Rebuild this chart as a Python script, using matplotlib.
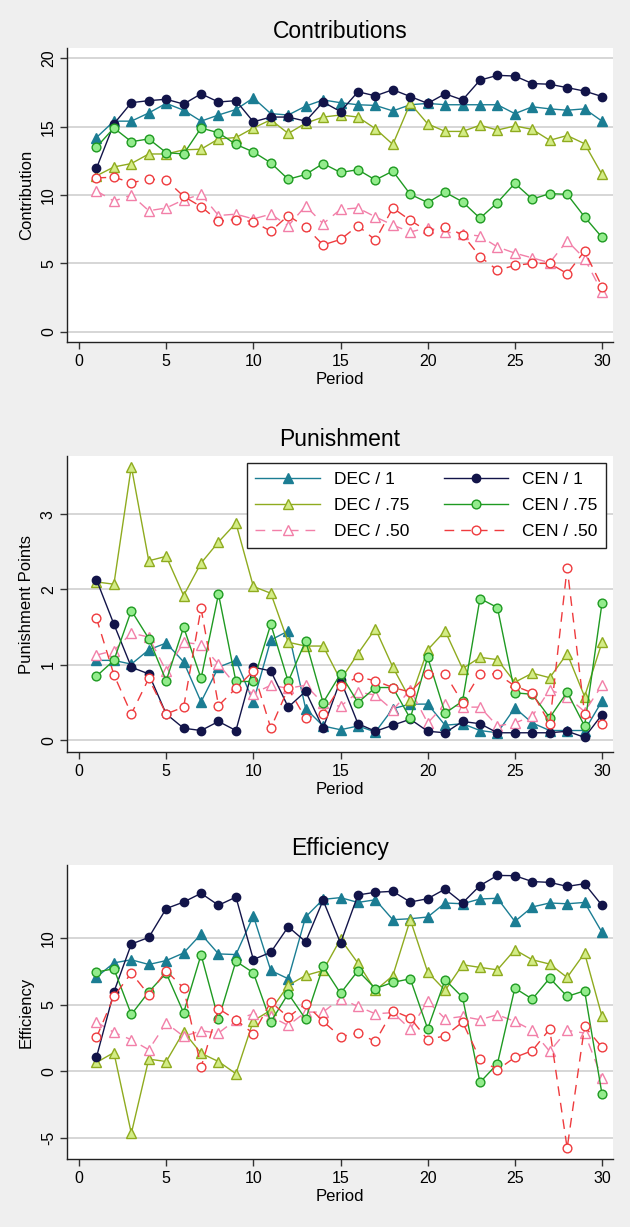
import matplotlib
matplotlib.use("Agg")
import matplotlib.pyplot as plt
import numpy as np

plt.rcParams['font.family'] = ['Liberation Sans', 'DejaVu Sans']
plt.rcParams['axes.unicode_minus'] = False

periods = list(range(1, 31))

# ---------------- Contributions ----------------
contrib_dec_1 = [14.2, 15.4, 15.4, 16.0, 16.7, 16.2, 15.4, 15.85, 16.25, 17.1,
                 15.95, 15.85, 16.5, 16.95, 16.75, 16.6, 16.55, 16.15, 16.6, 16.7,
                 16.6, 16.6, 16.6, 16.6, 15.95, 16.45, 16.3, 16.2, 16.3, 15.4]
contrib_cen_1 = [11.95, 15.2, 16.75, 16.9, 17.0, 16.65, 17.4, 16.8, 16.9, 15.35,
                 15.7, 15.7, 15.4, 16.8, 16.1, 17.55, 17.25, 17.7, 17.2, 16.7,
                 17.4, 16.95, 18.4, 18.75, 18.7, 18.15, 18.1, 17.85, 17.6, 17.2]
contrib_dec_75 = [11.4, 12.05, 12.3, 13.0, 13.0, 13.3, 13.35, 14.1, 14.2, 14.9,
                  15.5, 14.5, 15.25, 15.7, 15.85, 15.7, 14.85, 13.7, 16.7, 15.2,
                  14.65, 14.65, 15.1, 14.75, 15.05, 14.8, 14.0, 14.35, 13.75, 11.5]
contrib_cen_75 = [13.5, 14.9, 13.9, 14.1, 13.1, 13.0, 14.9, 14.55, 13.7, 13.15,
                  12.35, 11.15, 11.5, 12.3, 11.65, 11.85, 11.1, 11.75, 10.05, 9.45,
                  10.2, 9.5, 8.3, 9.45, 10.85, 9.7, 10.1, 10.05, 8.4, 6.9]
contrib_dec_50 = [10.3, 9.55, 10.0, 8.85, 9.05, 9.65, 10.05, 8.5, 8.6, 8.25,
                  8.6, 7.75, 9.2, 7.9, 8.95, 9.05, 8.4, 7.8, 7.3, 7.6,
                  7.3, 7.15, 7.0, 6.2, 5.75, 5.4, 5.05, 6.65, 5.35, 2.9]
contrib_cen_50 = [11.25, 11.3, 10.9, 11.15, 11.1, 9.9, 9.15, 8.1, 8.2, 8.05,
                  7.35, 8.5, 7.65, 6.35, 6.75, 7.75, 6.7, 9.05, 8.15, 7.35,
                  7.65, 7.1, 5.5, 4.5, 4.85, 5.0, 5.0, 4.25, 5.9, 3.3]

# ---------------- Punishment ----------------
pun_dec_1 = [1.06, 1.06, 1.01, 1.20, 1.29, 1.04, 0.51, 0.97, 1.06, 0.51,
             1.33, 1.45, 0.42, 0.19, 0.14, 0.19, 0.11, 0.42, 0.48, 0.48,
             0.20, 0.22, 0.13, 0.10, 0.43, 0.23, 0.13, 0.13, 0.13, 0.52]
pun_cen_1 = [2.13, 1.54, 0.97, 0.88, 0.35, 0.16, 0.13, 0.25, 0.13, 0.97,
             0.92, 0.44, 0.65, 0.16, 0.80, 0.22, 0.12, 0.20, 0.28, 0.12,
             0.10, 0.25, 0.22, 0.10, 0.10, 0.10, 0.10, 0.12, 0.04, 0.34]
pun_dec_75 = [2.10, 2.07, 3.63, 2.38, 2.44, 1.92, 2.35, 2.63, 2.88, 2.04,
              1.95, 1.30, 1.25, 1.25, 0.80, 1.15, 1.48, 0.97, 0.54, 1.20,
              1.45, 0.95, 1.10, 1.07, 0.77, 0.89, 0.83, 1.15, 0.58, 1.30]
pun_cen_75 = [0.85, 1.06, 1.72, 1.35, 0.79, 1.50, 0.82, 1.94, 0.78, 0.78,
              1.54, 0.78, 1.32, 0.50, 0.88, 0.50, 0.70, 0.70, 0.29, 1.10,
              0.36, 0.52, 1.88, 1.76, 0.63, 0.61, 0.30, 0.64, 0.19, 1.82]
pun_dec_50 = [1.13, 1.19, 1.42, 1.37, 0.92, 1.30, 1.27, 1.01, 0.73, 0.62,
              0.73, 0.69, 0.73, 0.49, 0.45, 0.64, 0.60, 0.40, 0.67, 0.23,
              0.48, 0.44, 0.44, 0.19, 0.23, 0.32, 0.67, 0.58, 0.38, 0.73]
pun_cen_50 = [1.62, 0.87, 0.35, 0.82, 0.35, 0.44, 1.75, 0.46, 0.69, 0.92,
              0.16, 0.69, 0.29, 0.35, 0.72, 0.84, 0.79, 0.70, 0.64, 0.88,
              0.88, 0.50, 0.88, 0.88, 0.72, 0.63, 0.22, 2.29, 0.35, 0.22]

# ---------------- Efficiency ----------------
eff_dec_1 = [7.05, 8.12, 8.35, 8.0, 8.29, 8.86, 10.27, 8.79, 8.74, 11.63,
             7.55, 6.93, 11.56, 12.87, 13.0, 12.64, 12.84, 11.35, 11.42, 11.55,
             12.6, 12.54, 12.9, 12.95, 11.22, 12.3, 12.6, 12.54, 12.64, 10.4]
eff_cen_1 = [1.06, 5.94, 9.53, 10.02, 12.18, 12.67, 13.32, 12.43, 13.04, 8.37,
             8.91, 10.82, 9.7, 12.8, 9.6, 13.2, 13.4, 13.47, 12.67, 12.92,
             13.64, 12.6, 13.9, 14.66, 14.64, 14.2, 14.14, 13.84, 14.04, 12.42]
eff_dec_75 = [0.67, 1.41, -4.63, 0.92, 0.74, 2.97, 1.36, 0.74, -0.17, 3.79,
              4.58, 6.44, 7.18, 7.55, 9.9, 8.1, 6.06, 7.16, 11.35, 7.43,
              6.06, 7.98, 7.78, 7.6, 9.1, 8.35, 8.03, 7.03, 8.85, 4.11]
eff_cen_75 = [7.43, 7.68, 4.26, 5.95, 7.36, 4.39, 8.73, 3.9, 8.24, 7.38,
              3.71, 5.82, 3.91, 7.85, 5.84, 7.53, 6.2, 6.66, 6.93, 3.19,
              6.86, 5.54, -0.82, 0.57, 6.23, 5.41, 6.98, 5.61, 6.03, -1.7]
eff_dec_50 = [3.69, 2.92, 2.37, 1.62, 3.62, 2.62, 3.04, 2.87, 3.87, 4.31,
              4.11, 3.44, 4.44, 4.44, 5.45, 4.86, 4.31, 4.4, 3.17, 5.24,
              3.94, 4.11, 3.87, 4.24, 3.74, 3.07, 1.5, 3.07, 2.87, -0.5]
eff_cen_50 = [2.54, 5.61, 7.36, 5.74, 7.53, 6.23, 0.32, 4.69, 3.87, 2.82,
              5.2, 4.06, 5.06, 3.74, 2.6, 2.87, 2.24, 4.55, 4.0, 2.37,
              2.67, 3.69, 0.92, 0.12, 1.05, 1.55, 3.17, -5.74, 3.37, 1.8]

series_labels = ["DEC / 1", "DEC / .75", "DEC / .50", "CEN / 1", "CEN / .75", "CEN / .50"]

panel_titles = ["Contributions", "Punishment", "Efficiency"]
panel_ylabels = ["Contribution", "Punishment Points", "Efficiency"]
panel_yticks = [[0, 5, 10, 15, 20], [0, 1, 2, 3], [-5, 0, 5, 10]]
xticks = [0, 5, 10, 15, 20, 25, 30]

panels = [
    [contrib_dec_1, contrib_dec_75, contrib_dec_50, contrib_cen_1, contrib_cen_75, contrib_cen_50],
    [pun_dec_1, pun_dec_75, pun_dec_50, pun_cen_1, pun_cen_75, pun_cen_50],
    [eff_dec_1, eff_dec_75, eff_dec_50, eff_cen_1, eff_cen_75, eff_cen_50],
]

styles = [
    dict(color='#1b7d93', marker='^', mfc='#1b7d93', mec='#1b7d93', ls='-', ms=6.5),
    dict(color='#8fab1f', marker='^', mfc='#d3ec86', mec='#8fab1f', ls='-', ms=7),
    dict(color='#f27fa8', marker='^', mfc='white', mec='#f27fa8', ls=(0, (7, 5)), ms=7),
    dict(color='#121449', marker='o', mfc='#121449', mec='#121449', ls='-', ms=6),
    dict(color='#1f9a22', marker='o', mfc='#93ec8c', mec='#1f9a22', ls='-', ms=6.3),
    dict(color='#ef3b3e', marker='o', mfc='white', mec='#ef3b3e', ls=(0, (7, 5)), ms=6.3),
]

W, H = 630, 1227
fig = plt.figure(figsize=(W / 100, H / 100), dpi=100)
fig.patch.set_facecolor('#efefef')

boxes = [(48, 342), (456, 752), (865, 1159)]
ylims = [(-0.75, 20.75), (-0.155, 3.77), (-6.55, 15.44)]
left, right = 67, 613

for i, (top, bot) in enumerate(boxes):
    ax = fig.add_axes([left / W, (H - bot) / H, (right - left) / W, (bot - top) / H])
    ax.set_facecolor('white')
    for yv in panel_yticks[i]:
        ax.axhline(yv, color='#cccccc', lw=1.1, zorder=0)
    handles = {}
    for k in range(6):
        st = styles[k]
        ln, = ax.plot(periods, panels[i][k], color=st['color'], linestyle=st['ls'],
                      lw=1.0, marker=st['marker'], markersize=st['ms'],
                      markerfacecolor=st['mfc'], markeredgecolor=st['mec'],
                      markeredgewidth=1.0, label=series_labels[k], zorder=3)
        handles[k] = ln
    ax.set_xlim(-0.69, 30.63)
    ax.set_ylim(*ylims[i])
    ax.set_xticks(xticks)
    ax.set_yticks(panel_yticks[i])
    ax.tick_params(axis='both', direction='out', length=5, width=1, labelsize=11.5, color='#333333')
    ax.tick_params(axis='y', pad=3)
    for lab in ax.get_yticklabels():
        lab.set_rotation(90)
        lab.set_va('center')
    for s in ['top', 'right']:
        ax.spines[s].set_visible(False)
    for s in ['left', 'bottom']:
        ax.spines[s].set_color('#222222')
        ax.spines[s].set_linewidth(1.0)
    ax.set_title(panel_titles[i], fontsize=16.5, pad=7)
    ax.set_xlabel("Period", fontsize=12, labelpad=2)
    ax.set_ylabel(panel_ylabels[i], fontsize=12, labelpad=5)
    if i == 1:
        hs = [handles[k] for k in range(6)]
        leg = ax.legend(hs, series_labels, ncol=2, loc='upper right',
                        bbox_to_anchor=(0.987, 0.975), borderaxespad=0,
                        fontsize=12.5, handlelength=3.7, handletextpad=0.8,
                        columnspacing=2.0, labelspacing=0.62, borderpad=0.5,
                        fancybox=False, framealpha=1, edgecolor='#222222')
        leg.get_frame().set_linewidth(1.0)

fig.savefig("out.png", dpi=100, facecolor=fig.get_facecolor())
